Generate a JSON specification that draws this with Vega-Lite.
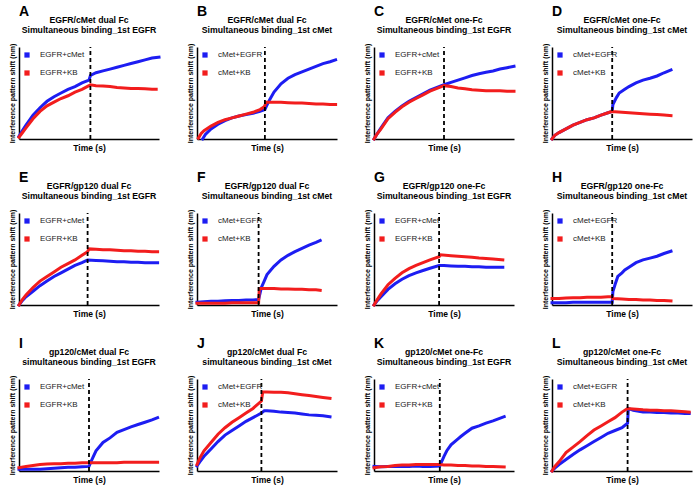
{
  "$schema": "https://vega.github.io/schema/vega-lite/v6.json",
  "padding": {"left": 8, "right": 0, "top": 4, "bottom": 2},
  "datasets": {
    "steps": [
      {"p": "A", "t": 51}, {"p": "B", "t": 48.5}, {"p": "C", "t": 50}, {"p": "D", "t": 43},
      {"p": "E", "t": 49}, {"p": "F", "t": 44}, {"p": "G", "t": 46.5}, {"p": "H", "t": 43},
      {"p": "I", "t": 50}, {"p": "J", "t": 46}, {"p": "K", "t": 47}, {"p": "L", "t": 54}
    ],
    "curves": [
      {"p":"A","s":"EGFR+cMet","t":0,"v":3},{"p":"A","s":"EGFR+cMet","t":2,"v":8},{"p":"A","s":"EGFR+cMet","t":5,"v":15},{"p":"A","s":"EGFR+cMet","t":10,"v":26},{"p":"A","s":"EGFR+cMet","t":15,"v":34},{"p":"A","s":"EGFR+cMet","t":20,"v":41},{"p":"A","s":"EGFR+cMet","t":25,"v":46},{"p":"A","s":"EGFR+cMet","t":30,"v":50},{"p":"A","s":"EGFR+cMet","t":35,"v":54},{"p":"A","s":"EGFR+cMet","t":40,"v":57},{"p":"A","s":"EGFR+cMet","t":45,"v":61},{"p":"A","s":"EGFR+cMet","t":50,"v":64},{"p":"A","s":"EGFR+cMet","t":51,"v":69},{"p":"A","s":"EGFR+cMet","t":55,"v":72},{"p":"A","s":"EGFR+cMet","t":60,"v":74},{"p":"A","s":"EGFR+cMet","t":65,"v":76},{"p":"A","s":"EGFR+cMet","t":70,"v":78},{"p":"A","s":"EGFR+cMet","t":75,"v":80},{"p":"A","s":"EGFR+cMet","t":80,"v":82},{"p":"A","s":"EGFR+cMet","t":85,"v":84},{"p":"A","s":"EGFR+cMet","t":90,"v":86},{"p":"A","s":"EGFR+cMet","t":95,"v":88},{"p":"A","s":"EGFR+cMet","t":100,"v":89},
      {"p":"A","s":"EGFR+KB","t":0,"v":2},{"p":"A","s":"EGFR+KB","t":2,"v":6},{"p":"A","s":"EGFR+KB","t":5,"v":12},{"p":"A","s":"EGFR+KB","t":10,"v":22},{"p":"A","s":"EGFR+KB","t":15,"v":30},{"p":"A","s":"EGFR+KB","t":20,"v":36},{"p":"A","s":"EGFR+KB","t":25,"v":40},{"p":"A","s":"EGFR+KB","t":30,"v":44},{"p":"A","s":"EGFR+KB","t":35,"v":47},{"p":"A","s":"EGFR+KB","t":40,"v":51},{"p":"A","s":"EGFR+KB","t":45,"v":54},{"p":"A","s":"EGFR+KB","t":50,"v":58},{"p":"A","s":"EGFR+KB","t":51,"v":59},{"p":"A","s":"EGFR+KB","t":55,"v":58},{"p":"A","s":"EGFR+KB","t":60,"v":57.5},{"p":"A","s":"EGFR+KB","t":65,"v":57},{"p":"A","s":"EGFR+KB","t":70,"v":56},{"p":"A","s":"EGFR+KB","t":75,"v":55.5},{"p":"A","s":"EGFR+KB","t":80,"v":55},{"p":"A","s":"EGFR+KB","t":85,"v":55},{"p":"A","s":"EGFR+KB","t":90,"v":54.5},{"p":"A","s":"EGFR+KB","t":95,"v":54},{"p":"A","s":"EGFR+KB","t":98,"v":54},

      {"p":"B","s":"cMet+EGFR","t":4,"v":0},{"p":"B","s":"cMet+EGFR","t":6,"v":5},{"p":"B","s":"cMet+EGFR","t":10,"v":11},{"p":"B","s":"cMet+EGFR","t":15,"v":16},{"p":"B","s":"cMet+EGFR","t":20,"v":20},{"p":"B","s":"cMet+EGFR","t":25,"v":23},{"p":"B","s":"cMet+EGFR","t":30,"v":25},{"p":"B","s":"cMet+EGFR","t":35,"v":26.5},{"p":"B","s":"cMet+EGFR","t":40,"v":28},{"p":"B","s":"cMet+EGFR","t":45,"v":30},{"p":"B","s":"cMet+EGFR","t":48.5,"v":32},{"p":"B","s":"cMet+EGFR","t":50,"v":37},{"p":"B","s":"cMet+EGFR","t":52,"v":43},{"p":"B","s":"cMet+EGFR","t":55,"v":51},{"p":"B","s":"cMet+EGFR","t":60,"v":60},{"p":"B","s":"cMet+EGFR","t":65,"v":66},{"p":"B","s":"cMet+EGFR","t":70,"v":70},{"p":"B","s":"cMet+EGFR","t":75,"v":73},{"p":"B","s":"cMet+EGFR","t":80,"v":76},{"p":"B","s":"cMet+EGFR","t":85,"v":79},{"p":"B","s":"cMet+EGFR","t":90,"v":82},{"p":"B","s":"cMet+EGFR","t":95,"v":84},{"p":"B","s":"cMet+EGFR","t":99,"v":86},
      {"p":"B","s":"cMet+KB","t":1,"v":1},{"p":"B","s":"cMet+KB","t":3,"v":6},{"p":"B","s":"cMet+KB","t":5,"v":9},{"p":"B","s":"cMet+KB","t":10,"v":14},{"p":"B","s":"cMet+KB","t":15,"v":18},{"p":"B","s":"cMet+KB","t":20,"v":21},{"p":"B","s":"cMet+KB","t":25,"v":23},{"p":"B","s":"cMet+KB","t":30,"v":25},{"p":"B","s":"cMet+KB","t":35,"v":27},{"p":"B","s":"cMet+KB","t":40,"v":29},{"p":"B","s":"cMet+KB","t":45,"v":32},{"p":"B","s":"cMet+KB","t":48,"v":35},{"p":"B","s":"cMet+KB","t":49.5,"v":40},{"p":"B","s":"cMet+KB","t":55,"v":40},{"p":"B","s":"cMet+KB","t":60,"v":40},{"p":"B","s":"cMet+KB","t":65,"v":39.5},{"p":"B","s":"cMet+KB","t":70,"v":39},{"p":"B","s":"cMet+KB","t":75,"v":39},{"p":"B","s":"cMet+KB","t":80,"v":38.5},{"p":"B","s":"cMet+KB","t":85,"v":38},{"p":"B","s":"cMet+KB","t":90,"v":38},{"p":"B","s":"cMet+KB","t":95,"v":37.5},{"p":"B","s":"cMet+KB","t":99,"v":37.5},

      {"p":"C","s":"EGFR+cMet","t":0,"v":0},{"p":"C","s":"EGFR+cMet","t":2,"v":5},{"p":"C","s":"EGFR+cMet","t":5,"v":12},{"p":"C","s":"EGFR+cMet","t":10,"v":23},{"p":"C","s":"EGFR+cMet","t":15,"v":30},{"p":"C","s":"EGFR+cMet","t":20,"v":36},{"p":"C","s":"EGFR+cMet","t":25,"v":41},{"p":"C","s":"EGFR+cMet","t":30,"v":45},{"p":"C","s":"EGFR+cMet","t":35,"v":49},{"p":"C","s":"EGFR+cMet","t":40,"v":53},{"p":"C","s":"EGFR+cMet","t":45,"v":56},{"p":"C","s":"EGFR+cMet","t":50,"v":59},{"p":"C","s":"EGFR+cMet","t":55,"v":61.5},{"p":"C","s":"EGFR+cMet","t":60,"v":64},{"p":"C","s":"EGFR+cMet","t":65,"v":66.5},{"p":"C","s":"EGFR+cMet","t":70,"v":69},{"p":"C","s":"EGFR+cMet","t":75,"v":71},{"p":"C","s":"EGFR+cMet","t":80,"v":72.5},{"p":"C","s":"EGFR+cMet","t":85,"v":74},{"p":"C","s":"EGFR+cMet","t":90,"v":76},{"p":"C","s":"EGFR+cMet","t":95,"v":77.5},{"p":"C","s":"EGFR+cMet","t":100,"v":79},
      {"p":"C","s":"EGFR+KB","t":0,"v":0},{"p":"C","s":"EGFR+KB","t":2,"v":5},{"p":"C","s":"EGFR+KB","t":5,"v":11},{"p":"C","s":"EGFR+KB","t":10,"v":22},{"p":"C","s":"EGFR+KB","t":15,"v":29},{"p":"C","s":"EGFR+KB","t":20,"v":35},{"p":"C","s":"EGFR+KB","t":25,"v":40},{"p":"C","s":"EGFR+KB","t":30,"v":44},{"p":"C","s":"EGFR+KB","t":35,"v":48},{"p":"C","s":"EGFR+KB","t":40,"v":52},{"p":"C","s":"EGFR+KB","t":45,"v":55},{"p":"C","s":"EGFR+KB","t":50,"v":58},{"p":"C","s":"EGFR+KB","t":55,"v":57},{"p":"C","s":"EGFR+KB","t":60,"v":55.5},{"p":"C","s":"EGFR+KB","t":65,"v":54.5},{"p":"C","s":"EGFR+KB","t":70,"v":53.5},{"p":"C","s":"EGFR+KB","t":75,"v":53},{"p":"C","s":"EGFR+KB","t":80,"v":52.5},{"p":"C","s":"EGFR+KB","t":85,"v":52.5},{"p":"C","s":"EGFR+KB","t":90,"v":52.5},{"p":"C","s":"EGFR+KB","t":95,"v":52},{"p":"C","s":"EGFR+KB","t":100,"v":52},

      {"p":"D","s":"cMet+EGFR","t":0,"v":0},{"p":"D","s":"cMet+EGFR","t":2,"v":4},{"p":"D","s":"cMet+EGFR","t":5,"v":7},{"p":"D","s":"cMet+EGFR","t":10,"v":11},{"p":"D","s":"cMet+EGFR","t":15,"v":15},{"p":"D","s":"cMet+EGFR","t":20,"v":18},{"p":"D","s":"cMet+EGFR","t":25,"v":21},{"p":"D","s":"cMet+EGFR","t":30,"v":23},{"p":"D","s":"cMet+EGFR","t":35,"v":26},{"p":"D","s":"cMet+EGFR","t":40,"v":28.5},{"p":"D","s":"cMet+EGFR","t":43,"v":30},{"p":"D","s":"cMet+EGFR","t":43.5,"v":37.5},{"p":"D","s":"cMet+EGFR","t":46,"v":45},{"p":"D","s":"cMet+EGFR","t":48,"v":50},{"p":"D","s":"cMet+EGFR","t":52,"v":54},{"p":"D","s":"cMet+EGFR","t":55,"v":57},{"p":"D","s":"cMet+EGFR","t":60,"v":61},{"p":"D","s":"cMet+EGFR","t":65,"v":64},{"p":"D","s":"cMet+EGFR","t":70,"v":66},{"p":"D","s":"cMet+EGFR","t":75,"v":68.5},{"p":"D","s":"cMet+EGFR","t":80,"v":72},{"p":"D","s":"cMet+EGFR","t":85,"v":75},
      {"p":"D","s":"cMet+KB","t":0,"v":0},{"p":"D","s":"cMet+KB","t":2,"v":4},{"p":"D","s":"cMet+KB","t":5,"v":7},{"p":"D","s":"cMet+KB","t":10,"v":11},{"p":"D","s":"cMet+KB","t":15,"v":15},{"p":"D","s":"cMet+KB","t":20,"v":18},{"p":"D","s":"cMet+KB","t":25,"v":21},{"p":"D","s":"cMet+KB","t":30,"v":23},{"p":"D","s":"cMet+KB","t":35,"v":26},{"p":"D","s":"cMet+KB","t":40,"v":28.5},{"p":"D","s":"cMet+KB","t":43,"v":30},{"p":"D","s":"cMet+KB","t":45,"v":29.5},{"p":"D","s":"cMet+KB","t":50,"v":29},{"p":"D","s":"cMet+KB","t":55,"v":28.5},{"p":"D","s":"cMet+KB","t":60,"v":28},{"p":"D","s":"cMet+KB","t":65,"v":27.5},{"p":"D","s":"cMet+KB","t":70,"v":27},{"p":"D","s":"cMet+KB","t":75,"v":26.5},{"p":"D","s":"cMet+KB","t":80,"v":26},{"p":"D","s":"cMet+KB","t":85,"v":25.5},

      {"p":"E","s":"EGFR+cMet","t":0,"v":0},{"p":"E","s":"EGFR+cMet","t":2,"v":4},{"p":"E","s":"EGFR+cMet","t":5,"v":9},{"p":"E","s":"EGFR+cMet","t":10,"v":15},{"p":"E","s":"EGFR+cMet","t":15,"v":21},{"p":"E","s":"EGFR+cMet","t":20,"v":26},{"p":"E","s":"EGFR+cMet","t":25,"v":31},{"p":"E","s":"EGFR+cMet","t":30,"v":35},{"p":"E","s":"EGFR+cMet","t":35,"v":39},{"p":"E","s":"EGFR+cMet","t":40,"v":43},{"p":"E","s":"EGFR+cMet","t":45,"v":46},{"p":"E","s":"EGFR+cMet","t":49,"v":49},{"p":"E","s":"EGFR+cMet","t":55,"v":48.5},{"p":"E","s":"EGFR+cMet","t":60,"v":48},{"p":"E","s":"EGFR+cMet","t":65,"v":47.5},{"p":"E","s":"EGFR+cMet","t":70,"v":47},{"p":"E","s":"EGFR+cMet","t":75,"v":47},{"p":"E","s":"EGFR+cMet","t":80,"v":46.5},{"p":"E","s":"EGFR+cMet","t":85,"v":46.5},{"p":"E","s":"EGFR+cMet","t":90,"v":46},{"p":"E","s":"EGFR+cMet","t":95,"v":46},{"p":"E","s":"EGFR+cMet","t":99,"v":46},
      {"p":"E","s":"EGFR+KB","t":0,"v":0},{"p":"E","s":"EGFR+KB","t":2,"v":5},{"p":"E","s":"EGFR+KB","t":5,"v":11},{"p":"E","s":"EGFR+KB","t":10,"v":19},{"p":"E","s":"EGFR+KB","t":15,"v":26},{"p":"E","s":"EGFR+KB","t":20,"v":31},{"p":"E","s":"EGFR+KB","t":25,"v":36},{"p":"E","s":"EGFR+KB","t":30,"v":41},{"p":"E","s":"EGFR+KB","t":35,"v":45},{"p":"E","s":"EGFR+KB","t":40,"v":49},{"p":"E","s":"EGFR+KB","t":45,"v":54},{"p":"E","s":"EGFR+KB","t":49,"v":58},{"p":"E","s":"EGFR+KB","t":50,"v":61},{"p":"E","s":"EGFR+KB","t":55,"v":60.5},{"p":"E","s":"EGFR+KB","t":60,"v":60},{"p":"E","s":"EGFR+KB","t":65,"v":60},{"p":"E","s":"EGFR+KB","t":70,"v":59.5},{"p":"E","s":"EGFR+KB","t":75,"v":59},{"p":"E","s":"EGFR+KB","t":80,"v":59},{"p":"E","s":"EGFR+KB","t":85,"v":58.5},{"p":"E","s":"EGFR+KB","t":90,"v":58.5},{"p":"E","s":"EGFR+KB","t":95,"v":58},{"p":"E","s":"EGFR+KB","t":99,"v":58},

      {"p":"F","s":"cMet+EGFR","t":0,"v":3},{"p":"F","s":"cMet+EGFR","t":5,"v":3.5},{"p":"F","s":"cMet+EGFR","t":10,"v":4},{"p":"F","s":"cMet+EGFR","t":15,"v":4},{"p":"F","s":"cMet+EGFR","t":20,"v":4.5},{"p":"F","s":"cMet+EGFR","t":25,"v":5},{"p":"F","s":"cMet+EGFR","t":30,"v":5},{"p":"F","s":"cMet+EGFR","t":35,"v":5.5},{"p":"F","s":"cMet+EGFR","t":40,"v":5.5},{"p":"F","s":"cMet+EGFR","t":44,"v":6},{"p":"F","s":"cMet+EGFR","t":46,"v":19},{"p":"F","s":"cMet+EGFR","t":48,"v":26},{"p":"F","s":"cMet+EGFR","t":50,"v":33},{"p":"F","s":"cMet+EGFR","t":55,"v":42},{"p":"F","s":"cMet+EGFR","t":60,"v":49},{"p":"F","s":"cMet+EGFR","t":65,"v":54},{"p":"F","s":"cMet+EGFR","t":70,"v":58},{"p":"F","s":"cMet+EGFR","t":75,"v":61.5},{"p":"F","s":"cMet+EGFR","t":80,"v":65},{"p":"F","s":"cMet+EGFR","t":85,"v":68},{"p":"F","s":"cMet+EGFR","t":88,"v":70},
      {"p":"F","s":"cMet+KB","t":0,"v":2},{"p":"F","s":"cMet+KB","t":5,"v":2},{"p":"F","s":"cMet+KB","t":10,"v":2},{"p":"F","s":"cMet+KB","t":15,"v":2},{"p":"F","s":"cMet+KB","t":20,"v":2},{"p":"F","s":"cMet+KB","t":25,"v":2.5},{"p":"F","s":"cMet+KB","t":30,"v":2.5},{"p":"F","s":"cMet+KB","t":35,"v":2.5},{"p":"F","s":"cMet+KB","t":40,"v":2.5},{"p":"F","s":"cMet+KB","t":44,"v":2.5},{"p":"F","s":"cMet+KB","t":44.5,"v":18},{"p":"F","s":"cMet+KB","t":50,"v":18},{"p":"F","s":"cMet+KB","t":55,"v":18},{"p":"F","s":"cMet+KB","t":60,"v":17.5},{"p":"F","s":"cMet+KB","t":65,"v":17.5},{"p":"F","s":"cMet+KB","t":70,"v":17},{"p":"F","s":"cMet+KB","t":75,"v":17},{"p":"F","s":"cMet+KB","t":80,"v":16.5},{"p":"F","s":"cMet+KB","t":85,"v":16.5},{"p":"F","s":"cMet+KB","t":88,"v":16},

      {"p":"G","s":"EGFR+cMet","t":0,"v":0},{"p":"G","s":"EGFR+cMet","t":2,"v":4},{"p":"G","s":"EGFR+cMet","t":5,"v":9},{"p":"G","s":"EGFR+cMet","t":10,"v":17},{"p":"G","s":"EGFR+cMet","t":15,"v":23},{"p":"G","s":"EGFR+cMet","t":20,"v":28},{"p":"G","s":"EGFR+cMet","t":25,"v":32},{"p":"G","s":"EGFR+cMet","t":30,"v":35},{"p":"G","s":"EGFR+cMet","t":35,"v":37.5},{"p":"G","s":"EGFR+cMet","t":40,"v":40},{"p":"G","s":"EGFR+cMet","t":46.5,"v":43},{"p":"G","s":"EGFR+cMet","t":50,"v":43},{"p":"G","s":"EGFR+cMet","t":55,"v":42.5},{"p":"G","s":"EGFR+cMet","t":60,"v":42},{"p":"G","s":"EGFR+cMet","t":65,"v":42},{"p":"G","s":"EGFR+cMet","t":70,"v":41.5},{"p":"G","s":"EGFR+cMet","t":75,"v":41.5},{"p":"G","s":"EGFR+cMet","t":80,"v":41},{"p":"G","s":"EGFR+cMet","t":85,"v":41},{"p":"G","s":"EGFR+cMet","t":92,"v":41},
      {"p":"G","s":"EGFR+KB","t":0,"v":0},{"p":"G","s":"EGFR+KB","t":2,"v":5},{"p":"G","s":"EGFR+KB","t":5,"v":12},{"p":"G","s":"EGFR+KB","t":10,"v":22},{"p":"G","s":"EGFR+KB","t":15,"v":29},{"p":"G","s":"EGFR+KB","t":20,"v":35},{"p":"G","s":"EGFR+KB","t":25,"v":39.5},{"p":"G","s":"EGFR+KB","t":30,"v":43},{"p":"G","s":"EGFR+KB","t":35,"v":46},{"p":"G","s":"EGFR+KB","t":40,"v":49},{"p":"G","s":"EGFR+KB","t":46.5,"v":52.5},{"p":"G","s":"EGFR+KB","t":47.5,"v":54.5},{"p":"G","s":"EGFR+KB","t":55,"v":53.5},{"p":"G","s":"EGFR+KB","t":60,"v":53},{"p":"G","s":"EGFR+KB","t":65,"v":52.5},{"p":"G","s":"EGFR+KB","t":70,"v":52},{"p":"G","s":"EGFR+KB","t":75,"v":51},{"p":"G","s":"EGFR+KB","t":80,"v":50.5},{"p":"G","s":"EGFR+KB","t":85,"v":50},{"p":"G","s":"EGFR+KB","t":92,"v":49},

      {"p":"H","s":"cMet+EGFR","t":0,"v":2.5},{"p":"H","s":"cMet+EGFR","t":5,"v":2.5},{"p":"H","s":"cMet+EGFR","t":10,"v":2.5},{"p":"H","s":"cMet+EGFR","t":15,"v":3},{"p":"H","s":"cMet+EGFR","t":20,"v":3},{"p":"H","s":"cMet+EGFR","t":25,"v":3},{"p":"H","s":"cMet+EGFR","t":30,"v":3},{"p":"H","s":"cMet+EGFR","t":35,"v":3},{"p":"H","s":"cMet+EGFR","t":40,"v":3},{"p":"H","s":"cMet+EGFR","t":43,"v":3},{"p":"H","s":"cMet+EGFR","t":43.5,"v":14.5},{"p":"H","s":"cMet+EGFR","t":45,"v":22},{"p":"H","s":"cMet+EGFR","t":47,"v":31},{"p":"H","s":"cMet+EGFR","t":50,"v":35},{"p":"H","s":"cMet+EGFR","t":52,"v":38},{"p":"H","s":"cMet+EGFR","t":55,"v":41},{"p":"H","s":"cMet+EGFR","t":60,"v":46},{"p":"H","s":"cMet+EGFR","t":65,"v":49},{"p":"H","s":"cMet+EGFR","t":70,"v":51},{"p":"H","s":"cMet+EGFR","t":75,"v":53},{"p":"H","s":"cMet+EGFR","t":80,"v":56},{"p":"H","s":"cMet+EGFR","t":85,"v":58.5},
      {"p":"H","s":"cMet+KB","t":0,"v":7},{"p":"H","s":"cMet+KB","t":5,"v":7},{"p":"H","s":"cMet+KB","t":10,"v":7.5},{"p":"H","s":"cMet+KB","t":15,"v":8},{"p":"H","s":"cMet+KB","t":20,"v":8},{"p":"H","s":"cMet+KB","t":25,"v":8.5},{"p":"H","s":"cMet+KB","t":30,"v":8.5},{"p":"H","s":"cMet+KB","t":35,"v":8.5},{"p":"H","s":"cMet+KB","t":40,"v":9},{"p":"H","s":"cMet+KB","t":43,"v":9},{"p":"H","s":"cMet+KB","t":43.5,"v":7},{"p":"H","s":"cMet+KB","t":50,"v":6.5},{"p":"H","s":"cMet+KB","t":55,"v":6},{"p":"H","s":"cMet+KB","t":60,"v":6},{"p":"H","s":"cMet+KB","t":65,"v":5.5},{"p":"H","s":"cMet+KB","t":70,"v":5.5},{"p":"H","s":"cMet+KB","t":75,"v":5},{"p":"H","s":"cMet+KB","t":80,"v":5},{"p":"H","s":"cMet+KB","t":85,"v":4.5},

      {"p":"I","s":"EGFR+cMet","t":0,"v":2},{"p":"I","s":"EGFR+cMet","t":5,"v":2},{"p":"I","s":"EGFR+cMet","t":10,"v":2},{"p":"I","s":"EGFR+cMet","t":15,"v":2},{"p":"I","s":"EGFR+cMet","t":20,"v":2.5},{"p":"I","s":"EGFR+cMet","t":25,"v":3},{"p":"I","s":"EGFR+cMet","t":30,"v":3.5},{"p":"I","s":"EGFR+cMet","t":35,"v":4},{"p":"I","s":"EGFR+cMet","t":40,"v":4},{"p":"I","s":"EGFR+cMet","t":45,"v":4.5},{"p":"I","s":"EGFR+cMet","t":50,"v":5},{"p":"I","s":"EGFR+cMet","t":52,"v":12},{"p":"I","s":"EGFR+cMet","t":55,"v":22},{"p":"I","s":"EGFR+cMet","t":60,"v":31},{"p":"I","s":"EGFR+cMet","t":65,"v":36},{"p":"I","s":"EGFR+cMet","t":70,"v":42},{"p":"I","s":"EGFR+cMet","t":75,"v":45},{"p":"I","s":"EGFR+cMet","t":80,"v":48},{"p":"I","s":"EGFR+cMet","t":85,"v":50.5},{"p":"I","s":"EGFR+cMet","t":90,"v":53},{"p":"I","s":"EGFR+cMet","t":95,"v":55.5},{"p":"I","s":"EGFR+cMet","t":99,"v":58},
      {"p":"I","s":"EGFR+KB","t":0,"v":3.5},{"p":"I","s":"EGFR+KB","t":5,"v":5},{"p":"I","s":"EGFR+KB","t":10,"v":6},{"p":"I","s":"EGFR+KB","t":15,"v":7},{"p":"I","s":"EGFR+KB","t":20,"v":7.5},{"p":"I","s":"EGFR+KB","t":25,"v":8},{"p":"I","s":"EGFR+KB","t":30,"v":8},{"p":"I","s":"EGFR+KB","t":35,"v":8.5},{"p":"I","s":"EGFR+KB","t":40,"v":8.5},{"p":"I","s":"EGFR+KB","t":45,"v":9},{"p":"I","s":"EGFR+KB","t":50,"v":9},{"p":"I","s":"EGFR+KB","t":55,"v":9},{"p":"I","s":"EGFR+KB","t":60,"v":9},{"p":"I","s":"EGFR+KB","t":65,"v":9},{"p":"I","s":"EGFR+KB","t":70,"v":9},{"p":"I","s":"EGFR+KB","t":75,"v":9.5},{"p":"I","s":"EGFR+KB","t":80,"v":9.5},{"p":"I","s":"EGFR+KB","t":85,"v":9.5},{"p":"I","s":"EGFR+KB","t":90,"v":9.5},{"p":"I","s":"EGFR+KB","t":95,"v":9.5},{"p":"I","s":"EGFR+KB","t":99,"v":9.5},

      {"p":"J","s":"cMet+EGFR","t":0,"v":5.5},{"p":"J","s":"cMet+EGFR","t":2,"v":10},{"p":"J","s":"cMet+EGFR","t":5,"v":16},{"p":"J","s":"cMet+EGFR","t":10,"v":24},{"p":"J","s":"cMet+EGFR","t":15,"v":32},{"p":"J","s":"cMet+EGFR","t":20,"v":39},{"p":"J","s":"cMet+EGFR","t":25,"v":44},{"p":"J","s":"cMet+EGFR","t":30,"v":49},{"p":"J","s":"cMet+EGFR","t":35,"v":54},{"p":"J","s":"cMet+EGFR","t":40,"v":58},{"p":"J","s":"cMet+EGFR","t":46,"v":63},{"p":"J","s":"cMet+EGFR","t":48,"v":65.5},{"p":"J","s":"cMet+EGFR","t":50,"v":65.5},{"p":"J","s":"cMet+EGFR","t":55,"v":65},{"p":"J","s":"cMet+EGFR","t":60,"v":64},{"p":"J","s":"cMet+EGFR","t":65,"v":63.5},{"p":"J","s":"cMet+EGFR","t":70,"v":63},{"p":"J","s":"cMet+EGFR","t":75,"v":62},{"p":"J","s":"cMet+EGFR","t":80,"v":61},{"p":"J","s":"cMet+EGFR","t":85,"v":60.5},{"p":"J","s":"cMet+EGFR","t":90,"v":60},{"p":"J","s":"cMet+EGFR","t":95,"v":59},
      {"p":"J","s":"cMet+KB","t":0,"v":7},{"p":"J","s":"cMet+KB","t":2,"v":14},{"p":"J","s":"cMet+KB","t":5,"v":22},{"p":"J","s":"cMet+KB","t":10,"v":31},{"p":"J","s":"cMet+KB","t":15,"v":40},{"p":"J","s":"cMet+KB","t":20,"v":47},{"p":"J","s":"cMet+KB","t":25,"v":53},{"p":"J","s":"cMet+KB","t":30,"v":58},{"p":"J","s":"cMet+KB","t":35,"v":63},{"p":"J","s":"cMet+KB","t":40,"v":68},{"p":"J","s":"cMet+KB","t":46,"v":76},{"p":"J","s":"cMet+KB","t":47,"v":86},{"p":"J","s":"cMet+KB","t":50,"v":86},{"p":"J","s":"cMet+KB","t":55,"v":85.5},{"p":"J","s":"cMet+KB","t":60,"v":85.5},{"p":"J","s":"cMet+KB","t":65,"v":85},{"p":"J","s":"cMet+KB","t":70,"v":84},{"p":"J","s":"cMet+KB","t":75,"v":83},{"p":"J","s":"cMet+KB","t":80,"v":82},{"p":"J","s":"cMet+KB","t":85,"v":81},{"p":"J","s":"cMet+KB","t":90,"v":80},{"p":"J","s":"cMet+KB","t":95,"v":79},

      {"p":"K","s":"EGFR+cMet","t":0,"v":5},{"p":"K","s":"EGFR+cMet","t":5,"v":4.5},{"p":"K","s":"EGFR+cMet","t":10,"v":5},{"p":"K","s":"EGFR+cMet","t":15,"v":5},{"p":"K","s":"EGFR+cMet","t":20,"v":5},{"p":"K","s":"EGFR+cMet","t":25,"v":5},{"p":"K","s":"EGFR+cMet","t":30,"v":5.5},{"p":"K","s":"EGFR+cMet","t":35,"v":5},{"p":"K","s":"EGFR+cMet","t":40,"v":5},{"p":"K","s":"EGFR+cMet","t":47,"v":5.5},{"p":"K","s":"EGFR+cMet","t":48,"v":9},{"p":"K","s":"EGFR+cMet","t":50,"v":16},{"p":"K","s":"EGFR+cMet","t":52,"v":22},{"p":"K","s":"EGFR+cMet","t":55,"v":28.5},{"p":"K","s":"EGFR+cMet","t":60,"v":35},{"p":"K","s":"EGFR+cMet","t":62,"v":37.5},{"p":"K","s":"EGFR+cMet","t":65,"v":41},{"p":"K","s":"EGFR+cMet","t":70,"v":46.5},{"p":"K","s":"EGFR+cMet","t":75,"v":49},{"p":"K","s":"EGFR+cMet","t":80,"v":52},{"p":"K","s":"EGFR+cMet","t":85,"v":54.5},{"p":"K","s":"EGFR+cMet","t":93,"v":59},
      {"p":"K","s":"EGFR+KB","t":0,"v":3.5},{"p":"K","s":"EGFR+KB","t":5,"v":4.5},{"p":"K","s":"EGFR+KB","t":10,"v":5},{"p":"K","s":"EGFR+KB","t":15,"v":6},{"p":"K","s":"EGFR+KB","t":20,"v":6.5},{"p":"K","s":"EGFR+KB","t":25,"v":6.5},{"p":"K","s":"EGFR+KB","t":30,"v":7},{"p":"K","s":"EGFR+KB","t":35,"v":7},{"p":"K","s":"EGFR+KB","t":40,"v":7},{"p":"K","s":"EGFR+KB","t":47,"v":7},{"p":"K","s":"EGFR+KB","t":50,"v":6.5},{"p":"K","s":"EGFR+KB","t":55,"v":6.5},{"p":"K","s":"EGFR+KB","t":60,"v":6},{"p":"K","s":"EGFR+KB","t":65,"v":6},{"p":"K","s":"EGFR+KB","t":70,"v":5.5},{"p":"K","s":"EGFR+KB","t":75,"v":5.5},{"p":"K","s":"EGFR+KB","t":80,"v":5},{"p":"K","s":"EGFR+KB","t":85,"v":5},{"p":"K","s":"EGFR+KB","t":93,"v":4.5},

      {"p":"L","s":"cMet+EGFR","t":0,"v":0},{"p":"L","s":"cMet+EGFR","t":2,"v":3},{"p":"L","s":"cMet+EGFR","t":5,"v":7},{"p":"L","s":"cMet+EGFR","t":10,"v":12.5},{"p":"L","s":"cMet+EGFR","t":15,"v":18},{"p":"L","s":"cMet+EGFR","t":20,"v":23},{"p":"L","s":"cMet+EGFR","t":25,"v":27.5},{"p":"L","s":"cMet+EGFR","t":30,"v":32},{"p":"L","s":"cMet+EGFR","t":35,"v":36.5},{"p":"L","s":"cMet+EGFR","t":40,"v":41},{"p":"L","s":"cMet+EGFR","t":45,"v":44},{"p":"L","s":"cMet+EGFR","t":50,"v":47},{"p":"L","s":"cMet+EGFR","t":54,"v":52},{"p":"L","s":"cMet+EGFR","t":54.5,"v":68},{"p":"L","s":"cMet+EGFR","t":58,"v":66},{"p":"L","s":"cMet+EGFR","t":65,"v":64},{"p":"L","s":"cMet+EGFR","t":70,"v":64},{"p":"L","s":"cMet+EGFR","t":75,"v":63.5},{"p":"L","s":"cMet+EGFR","t":80,"v":63.5},{"p":"L","s":"cMet+EGFR","t":85,"v":63},{"p":"L","s":"cMet+EGFR","t":90,"v":63},{"p":"L","s":"cMet+EGFR","t":95,"v":62.5},{"p":"L","s":"cMet+EGFR","t":98,"v":62.5},
      {"p":"L","s":"cMet+KB","t":0,"v":0},{"p":"L","s":"cMet+KB","t":2,"v":5},{"p":"L","s":"cMet+KB","t":5,"v":10},{"p":"L","s":"cMet+KB","t":10,"v":20},{"p":"L","s":"cMet+KB","t":15,"v":26},{"p":"L","s":"cMet+KB","t":20,"v":32},{"p":"L","s":"cMet+KB","t":25,"v":38.5},{"p":"L","s":"cMet+KB","t":30,"v":44.5},{"p":"L","s":"cMet+KB","t":35,"v":49},{"p":"L","s":"cMet+KB","t":40,"v":53.5},{"p":"L","s":"cMet+KB","t":45,"v":58},{"p":"L","s":"cMet+KB","t":50,"v":64},{"p":"L","s":"cMet+KB","t":54,"v":68},{"p":"L","s":"cMet+KB","t":58,"v":67.5},{"p":"L","s":"cMet+KB","t":65,"v":66.5},{"p":"L","s":"cMet+KB","t":70,"v":66},{"p":"L","s":"cMet+KB","t":75,"v":66},{"p":"L","s":"cMet+KB","t":80,"v":65.5},{"p":"L","s":"cMet+KB","t":85,"v":65.5},{"p":"L","s":"cMet+KB","t":90,"v":65},{"p":"L","s":"cMet+KB","t":95,"v":64.5},{"p":"L","s":"cMet+KB","t":98,"v":64}
    ]
  },
  "columns": 4,
  "spacing": {"row": 18, "column": 21},
  "concat": [
    {"title": {"text": "A", "fontSize": 14, "anchor": "start", "offset": -3}, "vconcat": [{"width": 140, "height": 92, "title": {"text": ["EGFR/cMet dual Fc", "Simultaneous binding_1st EGFR"]},
      "layer": [
        {"data": {"name": "curves"}, "transform": [{"filter": "datum.p == 'A'"}], "mark": "line",
         "encoding": {"x": {"field": "t", "type": "quantitative", "scale": {"domain": [0, 100]}, "title": "Time (s)"},
                      "y": {"field": "v", "type": "quantitative", "scale": {"domain": [0, 100]}, "title": "Interference pattern shift (nm)"},
                      "color": {"field": "s", "type": "nominal", "scale": {"domain": ["EGFR+cMet", "EGFR+KB"], "range": ["#1d1df2", "#f21d1d"]}, "legend": {"title": null}}}},
        {"data": {"name": "steps"}, "transform": [{"filter": "datum.p == 'A'"}], "mark": "rule",
         "encoding": {"x": {"field": "t", "type": "quantitative"}, "y": {"datum": 0}, "y2": {"datum": 100}}}
      ]}]},
    {"title": {"text": "B", "fontSize": 14, "anchor": "start", "offset": -3}, "vconcat": [{"width": 140, "height": 92, "title": {"text": ["EGFR/cMet dual Fc", "Simultaneous binding_1st cMet"]},
      "layer": [
        {"data": {"name": "curves"}, "transform": [{"filter": "datum.p == 'B'"}], "mark": "line",
         "encoding": {"x": {"field": "t", "type": "quantitative", "scale": {"domain": [0, 100]}, "title": "Time (s)"},
                      "y": {"field": "v", "type": "quantitative", "scale": {"domain": [0, 100]}, "title": "Interference pattern shift (nm)"},
                      "color": {"field": "s", "type": "nominal", "scale": {"domain": ["cMet+EGFR", "cMet+KB"], "range": ["#1d1df2", "#f21d1d"]}, "legend": {"title": null}}}},
        {"data": {"name": "steps"}, "transform": [{"filter": "datum.p == 'B'"}], "mark": "rule",
         "encoding": {"x": {"field": "t", "type": "quantitative"}, "y": {"datum": 0}, "y2": {"datum": 100}}}
      ]}]},
    {"title": {"text": "C", "fontSize": 14, "anchor": "start", "offset": -3}, "vconcat": [{"width": 140, "height": 92, "title": {"text": ["EGFR/cMet one-Fc", "Simultaneous binding_1st EGFR"]},
      "layer": [
        {"data": {"name": "curves"}, "transform": [{"filter": "datum.p == 'C'"}], "mark": "line",
         "encoding": {"x": {"field": "t", "type": "quantitative", "scale": {"domain": [0, 100]}, "title": "Time (s)"},
                      "y": {"field": "v", "type": "quantitative", "scale": {"domain": [0, 100]}, "title": "Interference pattern shift (nm)"},
                      "color": {"field": "s", "type": "nominal", "scale": {"domain": ["EGFR+cMet", "EGFR+KB"], "range": ["#1d1df2", "#f21d1d"]}, "legend": {"title": null}}}},
        {"data": {"name": "steps"}, "transform": [{"filter": "datum.p == 'C'"}], "mark": "rule",
         "encoding": {"x": {"field": "t", "type": "quantitative"}, "y": {"datum": 0}, "y2": {"datum": 100}}}
      ]}]},
    {"title": {"text": "D", "fontSize": 14, "anchor": "start", "offset": -3}, "vconcat": [{"width": 140, "height": 92, "title": {"text": ["EGFR/cMet one-Fc", "Simultaneous binding_1st cMet"]},
      "layer": [
        {"data": {"name": "curves"}, "transform": [{"filter": "datum.p == 'D'"}], "mark": "line",
         "encoding": {"x": {"field": "t", "type": "quantitative", "scale": {"domain": [0, 100]}, "title": "Time (s)"},
                      "y": {"field": "v", "type": "quantitative", "scale": {"domain": [0, 100]}, "title": "Interference pattern shift (nm)"},
                      "color": {"field": "s", "type": "nominal", "scale": {"domain": ["cMet+EGFR", "cMet+KB"], "range": ["#1d1df2", "#f21d1d"]}, "legend": {"title": null}}}},
        {"data": {"name": "steps"}, "transform": [{"filter": "datum.p == 'D'"}], "mark": "rule",
         "encoding": {"x": {"field": "t", "type": "quantitative"}, "y": {"datum": 0}, "y2": {"datum": 100}}}
      ]}]},
    {"title": {"text": "E", "fontSize": 14, "anchor": "start", "offset": -3}, "vconcat": [{"width": 140, "height": 92, "title": {"text": ["EGFR/gp120 dual Fc", "Simultaneous binding_1st EGFR"]},
      "layer": [
        {"data": {"name": "curves"}, "transform": [{"filter": "datum.p == 'E'"}], "mark": "line",
         "encoding": {"x": {"field": "t", "type": "quantitative", "scale": {"domain": [0, 100]}, "title": "Time (s)"},
                      "y": {"field": "v", "type": "quantitative", "scale": {"domain": [0, 100]}, "title": "Interference pattern shift (nm)"},
                      "color": {"field": "s", "type": "nominal", "scale": {"domain": ["EGFR+cMet", "EGFR+KB"], "range": ["#1d1df2", "#f21d1d"]}, "legend": {"title": null}}}},
        {"data": {"name": "steps"}, "transform": [{"filter": "datum.p == 'E'"}], "mark": "rule",
         "encoding": {"x": {"field": "t", "type": "quantitative"}, "y": {"datum": 0}, "y2": {"datum": 100}}}
      ]}]},
    {"title": {"text": "F", "fontSize": 14, "anchor": "start", "offset": -3}, "vconcat": [{"width": 140, "height": 92, "title": {"text": ["EGFR/gp120 dual Fc", "Simultaneous binding_1st cMet"]},
      "layer": [
        {"data": {"name": "curves"}, "transform": [{"filter": "datum.p == 'F'"}], "mark": "line",
         "encoding": {"x": {"field": "t", "type": "quantitative", "scale": {"domain": [0, 100]}, "title": "Time (s)"},
                      "y": {"field": "v", "type": "quantitative", "scale": {"domain": [0, 100]}, "title": "Interference pattern shift (nm)"},
                      "color": {"field": "s", "type": "nominal", "scale": {"domain": ["cMet+EGFR", "cMet+KB"], "range": ["#1d1df2", "#f21d1d"]}, "legend": {"title": null}}}},
        {"data": {"name": "steps"}, "transform": [{"filter": "datum.p == 'F'"}], "mark": "rule",
         "encoding": {"x": {"field": "t", "type": "quantitative"}, "y": {"datum": 0}, "y2": {"datum": 100}}}
      ]}]},
    {"title": {"text": "G", "fontSize": 14, "anchor": "start", "offset": -3}, "vconcat": [{"width": 140, "height": 92, "title": {"text": ["EGFR/gp120 one-Fc", "Simultaneous binding_1st EGFR"]},
      "layer": [
        {"data": {"name": "curves"}, "transform": [{"filter": "datum.p == 'G'"}], "mark": "line",
         "encoding": {"x": {"field": "t", "type": "quantitative", "scale": {"domain": [0, 100]}, "title": "Time (s)"},
                      "y": {"field": "v", "type": "quantitative", "scale": {"domain": [0, 100]}, "title": "Interference pattern shift (nm)"},
                      "color": {"field": "s", "type": "nominal", "scale": {"domain": ["EGFR+cMet", "EGFR+KB"], "range": ["#1d1df2", "#f21d1d"]}, "legend": {"title": null}}}},
        {"data": {"name": "steps"}, "transform": [{"filter": "datum.p == 'G'"}], "mark": "rule",
         "encoding": {"x": {"field": "t", "type": "quantitative"}, "y": {"datum": 0}, "y2": {"datum": 100}}}
      ]}]},
    {"title": {"text": "H", "fontSize": 14, "anchor": "start", "offset": -3}, "vconcat": [{"width": 140, "height": 92, "title": {"text": ["EGFR/gp120 one-Fc", "Simultaneous binding_1st cMet"]},
      "layer": [
        {"data": {"name": "curves"}, "transform": [{"filter": "datum.p == 'H'"}], "mark": "line",
         "encoding": {"x": {"field": "t", "type": "quantitative", "scale": {"domain": [0, 100]}, "title": "Time (s)"},
                      "y": {"field": "v", "type": "quantitative", "scale": {"domain": [0, 100]}, "title": "Interference pattern shift (nm)"},
                      "color": {"field": "s", "type": "nominal", "scale": {"domain": ["cMet+EGFR", "cMet+KB"], "range": ["#1d1df2", "#f21d1d"]}, "legend": {"title": null}}}},
        {"data": {"name": "steps"}, "transform": [{"filter": "datum.p == 'H'"}], "mark": "rule",
         "encoding": {"x": {"field": "t", "type": "quantitative"}, "y": {"datum": 0}, "y2": {"datum": 100}}}
      ]}]},
    {"title": {"text": "I", "fontSize": 14, "anchor": "start", "offset": -3}, "vconcat": [{"width": 140, "height": 92, "title": {"text": ["gp120/cMet dual Fc", "simultaneous binding_1st EGFR"]},
      "layer": [
        {"data": {"name": "curves"}, "transform": [{"filter": "datum.p == 'I'"}], "mark": "line",
         "encoding": {"x": {"field": "t", "type": "quantitative", "scale": {"domain": [0, 100]}, "title": "Time (s)"},
                      "y": {"field": "v", "type": "quantitative", "scale": {"domain": [0, 100]}, "title": "Interference pattern shift (nm)"},
                      "color": {"field": "s", "type": "nominal", "scale": {"domain": ["EGFR+cMet", "EGFR+KB"], "range": ["#1d1df2", "#f21d1d"]}, "legend": {"title": null}}}},
        {"data": {"name": "steps"}, "transform": [{"filter": "datum.p == 'I'"}], "mark": "rule",
         "encoding": {"x": {"field": "t", "type": "quantitative"}, "y": {"datum": 0}, "y2": {"datum": 100}}}
      ]}]},
    {"title": {"text": "J", "fontSize": 14, "anchor": "start", "offset": -3}, "vconcat": [{"width": 140, "height": 92, "title": {"text": ["gp120/cMet dual Fc", "simultaneous binding_1st cMet"]},
      "layer": [
        {"data": {"name": "curves"}, "transform": [{"filter": "datum.p == 'J'"}], "mark": "line",
         "encoding": {"x": {"field": "t", "type": "quantitative", "scale": {"domain": [0, 100]}, "title": "Time (s)"},
                      "y": {"field": "v", "type": "quantitative", "scale": {"domain": [0, 100]}, "title": "Interference pattern shift (nm)"},
                      "color": {"field": "s", "type": "nominal", "scale": {"domain": ["cMet+EGFR", "cMet+KB"], "range": ["#1d1df2", "#f21d1d"]}, "legend": {"title": null}}}},
        {"data": {"name": "steps"}, "transform": [{"filter": "datum.p == 'J'"}], "mark": "rule",
         "encoding": {"x": {"field": "t", "type": "quantitative"}, "y": {"datum": 0}, "y2": {"datum": 100}}}
      ]}]},
    {"title": {"text": "K", "fontSize": 14, "anchor": "start", "offset": -3}, "vconcat": [{"width": 140, "height": 92, "title": {"text": ["gp120/cMet one-Fc", "Simultaneous binding_1st EGFR"]},
      "layer": [
        {"data": {"name": "curves"}, "transform": [{"filter": "datum.p == 'K'"}], "mark": "line",
         "encoding": {"x": {"field": "t", "type": "quantitative", "scale": {"domain": [0, 100]}, "title": "Time (s)"},
                      "y": {"field": "v", "type": "quantitative", "scale": {"domain": [0, 100]}, "title": "Interference pattern shift (nm)"},
                      "color": {"field": "s", "type": "nominal", "scale": {"domain": ["EGFR+cMet", "EGFR+KB"], "range": ["#1d1df2", "#f21d1d"]}, "legend": {"title": null}}}},
        {"data": {"name": "steps"}, "transform": [{"filter": "datum.p == 'K'"}], "mark": "rule",
         "encoding": {"x": {"field": "t", "type": "quantitative"}, "y": {"datum": 0}, "y2": {"datum": 100}}}
      ]}]},
    {"title": {"text": "L", "fontSize": 14, "anchor": "start", "offset": -3}, "vconcat": [{"width": 140, "height": 92, "title": {"text": ["gp120/cMet one-Fc", "Simultaneous binding_1st cMet"]},
      "layer": [
        {"data": {"name": "curves"}, "transform": [{"filter": "datum.p == 'L'"}], "mark": "line",
         "encoding": {"x": {"field": "t", "type": "quantitative", "scale": {"domain": [0, 100]}, "title": "Time (s)"},
                      "y": {"field": "v", "type": "quantitative", "scale": {"domain": [0, 100]}, "title": "Interference pattern shift (nm)"},
                      "color": {"field": "s", "type": "nominal", "scale": {"domain": ["cMet+EGFR", "cMet+KB"], "range": ["#1d1df2", "#f21d1d"]}, "legend": {"title": null}}}},
        {"data": {"name": "steps"}, "transform": [{"filter": "datum.p == 'L'"}], "mark": "rule",
         "encoding": {"x": {"field": "t", "type": "quantitative"}, "y": {"datum": 0}, "y2": {"datum": 100}}}
      ]}]}
  ],
  "resolve": {"scale": {"color": "independent"}, "legend": {"color": "independent"}},
  "config": {
    "font": "Liberation Sans",
    "background": "white",
    "view": {"stroke": null},
    "line": {"strokeWidth": 3, "strokeCap": "square"},
    "rule": {"color": "black", "strokeWidth": 1.8, "strokeDash": [4, 3]},
    "axis": {"labels": false, "ticks": false, "grid": false, "domainColor": "black", "domainWidth": 1.5, "titleFontWeight": "bold", "titleColor": "black"},
    "axisX": {"titleFontSize": 8.5, "titlePadding": 4},
    "axisY": {"titleFontSize": 7, "titlePadding": 4},
    "legend": {"orient": "top-left", "offset": 4, "padding": 0, "symbolType": "square", "symbolSize": 5, "symbolStrokeWidth": 3, "labelFontSize": 8, "labelColor": "#222", "labelOffset": 9, "rowPadding": 2},
    "title": {"fontWeight": "bold", "fontSize": 8.7, "lineHeight": 10, "color": "black", "frame": "group", "offset": 9}
  }
}
